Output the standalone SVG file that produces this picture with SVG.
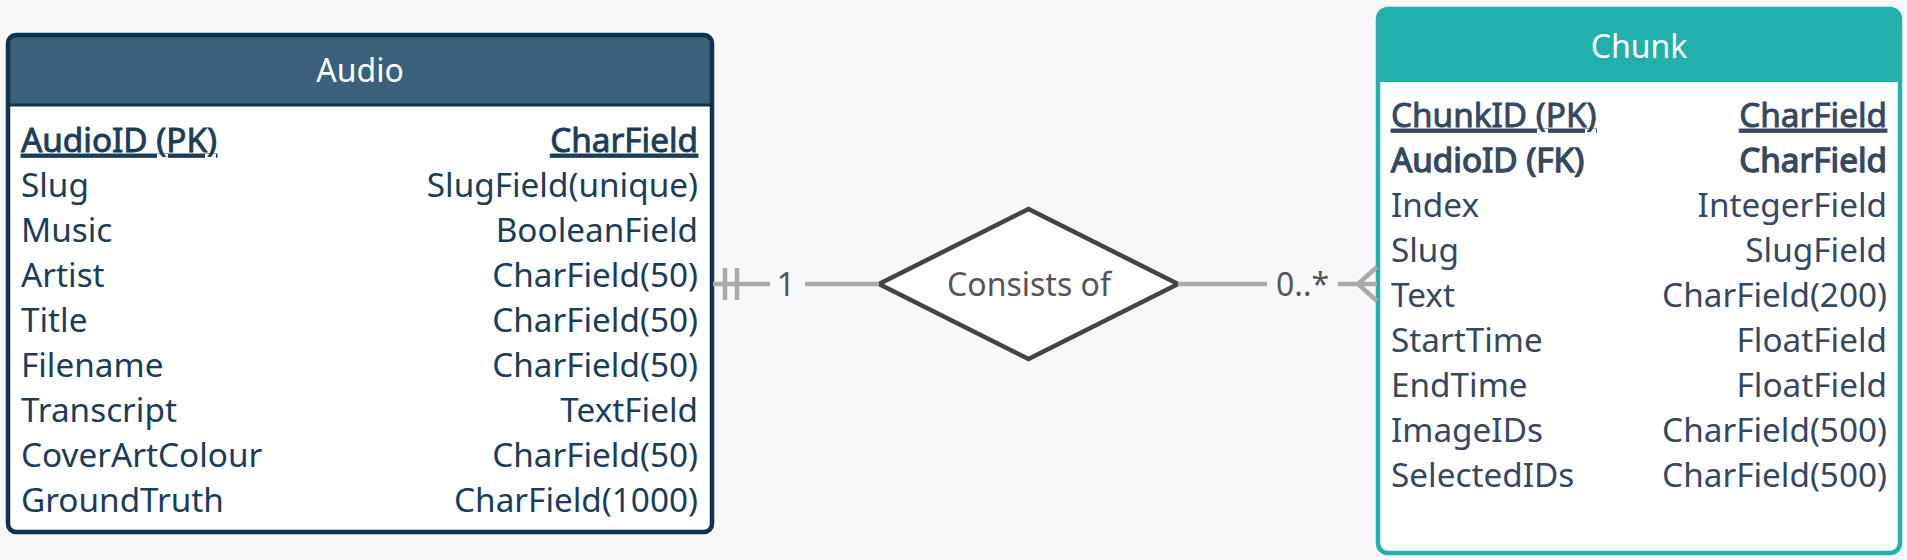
<svg xmlns="http://www.w3.org/2000/svg" width="1907" height="560" viewBox="0 0 1907 560">
<defs>
<style>
text { font-family: "Noto Sans", "Open Sans", sans-serif; }
.row { font-size: 33.3px; }
.a { fill: #1b3d5a; }
.c { fill: #364760; }
.a .sb { stroke: #1b3d5a; stroke-width: 0.9; }
.c .sb { stroke: #364760; stroke-width: 0.9; }
.c .sb2 { stroke: #364760; stroke-width: 1.3; }
.r { text-anchor: end; }
.title { font-size: 32px; fill: #ffffff; text-anchor: middle; }
.lbl { font-size: 32px; fill: #555555; }
.conn { stroke: #aaaaaa; stroke-width: 4.5; fill: none; }
</style>
<clipPath id="clipA"><rect x="8" y="35" width="704" height="497" rx="8"/></clipPath>
<clipPath id="clipC"><rect x="1378" y="9" width="522" height="544" rx="10"/></clipPath>
</defs>
<rect x="0" y="0" width="1907" height="560" fill="#f8f8fa"/>

<g id="audio">
<rect x="8" y="35" width="704" height="497" rx="8" fill="#ffffff"/>
<rect x="8" y="35" width="704" height="70" fill="#3a6179" clip-path="url(#clipA)"/>
<line x1="8" y1="105" x2="712" y2="105" stroke="#0e3350" stroke-width="3"/>
<rect x="8" y="35" width="704" height="497" rx="8" fill="none" stroke="#0e3350" stroke-width="4.5"/>
<text class="title" x="360" y="82">Audio</text>
<g class="row a">
<text class="sb" x="21" y="152" text-decoration="underline">AudioID (PK)</text>
<text class="r sb" x="698" y="152" text-decoration="underline">CharField</text>
<text x="21" y="197">Slug</text><text class="r" x="698" y="197">SlugField(unique)</text>
<text x="21" y="242">Music</text><text class="r" x="698" y="242">BooleanField</text>
<text x="21" y="287">Artist</text><text class="r" x="698" y="287">CharField(50)</text>
<text x="21" y="332">Title</text><text class="r" x="698" y="332">CharField(50)</text>
<text x="21" y="377">Filename</text><text class="r" x="698" y="377">CharField(50)</text>
<text x="21" y="422">Transcript</text><text class="r" x="698" y="422">TextField</text>
<text x="21" y="467">CoverArtColour</text><text class="r" x="698" y="467">CharField(50)</text>
<text x="21" y="512">GroundTruth</text><text class="r" x="698" y="512">CharField(1000)</text>
</g>
</g>

<g id="chunk">
<rect x="1378" y="9" width="522" height="544" rx="10" fill="#ffffff"/>
<rect x="1378" y="9" width="522" height="73" fill="#22b0ad" clip-path="url(#clipC)"/>
<rect x="1378" y="9" width="522" height="544" rx="10" fill="none" stroke="#22b0ad" stroke-width="4.5"/>
<text class="title" x="1639" y="58">Chunk</text>
<g class="row c">
<text class="sb" x="1391" y="127" text-decoration="underline">ChunkID (PK)</text>
<text class="r sb" x="1887" y="127" text-decoration="underline">CharField</text>
<text class="sb2" x="1391" y="172">AudioID (FK)</text>
<text class="r sb2" x="1887" y="172">CharField</text>
<text x="1391" y="217">Index</text><text class="r" x="1887" y="217">IntegerField</text>
<text x="1391" y="262">Slug</text><text class="r" x="1887" y="262">SlugField</text>
<text x="1391" y="307">Text</text><text class="r" x="1887" y="307">CharField(200)</text>
<text x="1391" y="352">StartTime</text><text class="r" x="1887" y="352">FloatField</text>
<text x="1391" y="397">EndTime</text><text class="r" x="1887" y="397">FloatField</text>
<text x="1391" y="442">ImageIDs</text><text class="r" x="1887" y="442">CharField(500)</text>
<text x="1391" y="487">SelectedIDs</text><text class="r" x="1887" y="487">CharField(500)</text>
</g>
</g>

<g id="consists_of">
<polygon points="879,284 1028.5,209 1178,284 1028.5,359" fill="#ffffff" stroke="#444444" stroke-width="4.5" stroke-linejoin="miter"/>
<text class="lbl" x="1029" y="296" text-anchor="middle">Consists of</text>
</g>

<g id="connectors">
<line class="conn" x1="713" y1="284" x2="770" y2="284"/>
<line class="conn" x1="725" y1="268" x2="725" y2="300"/>
<line class="conn" x1="737" y1="268" x2="737" y2="300"/>
<text class="lbl" x="786" y="296" text-anchor="middle">1</text>
<line class="conn" x1="805" y1="284" x2="879" y2="284"/>
<line class="conn" x1="1178" y1="284" x2="1267" y2="284"/>
<text class="lbl" x="1276" y="296">0..*</text>
<line class="conn" x1="1338" y1="284" x2="1377" y2="284"/>
<line class="conn" x1="1358" y1="284" x2="1377" y2="267"/>
<line class="conn" x1="1358" y1="284" x2="1377" y2="301"/>
</g>
</svg>
